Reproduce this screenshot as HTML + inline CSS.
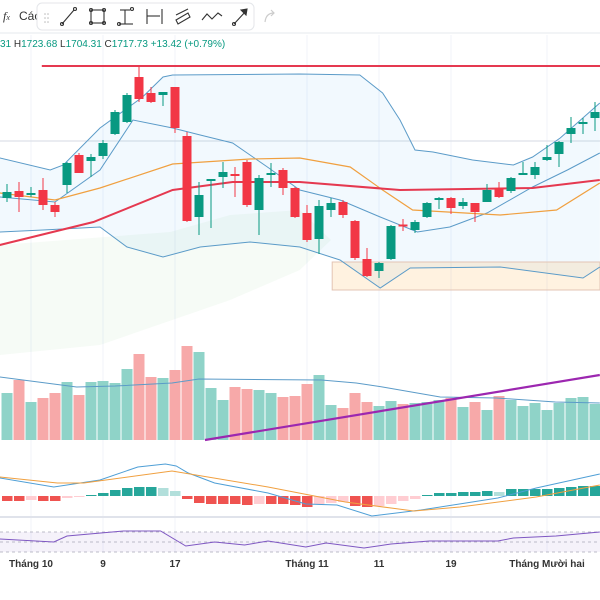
<!DOCTYPE html>
<html><head><meta charset="utf-8">
<style>
body{margin:0;width:600px;height:600px;overflow:hidden;background:#fff;font-family:"Liberation Sans",sans-serif;}
#wrap{position:relative;width:600px;height:600px;}
svg{position:absolute;left:0;top:0;}
</style></head>
<body>
<div id="wrap">
<svg id="chart" width="600" height="600"></svg>
</div>
<script>
// ---- DATA ----
const opens  = [1602,1609,1606.5,1610,1595,1615,1645,1639,1644,1666,1678,1723,1707,1705,1713,1664,1583,1620.5,1623,1626,1638,1590,1626.5,1630,1612,1587,1561,1590,1598,1579,1541,1529,1541,1575.5,1570,1583,1600,1602,1594,1597,1598,1612,1609,1626.5,1625,1640,1646,1666,1676,1682];
const highs  = [1616,1618,1613,1622,1598,1638,1647,1646,1660,1690,1707,1734,1713,1708,1713,1668,1618,1621,1638,1633,1640,1625,1637,1632,1613,1595,1600,1602,1600,1580,1552,1538,1575,1581,1580,1598,1603,1603,1602,1597,1616,1618,1623,1638,1638,1655,1659,1683,1682,1698];
const lows   = [1598,1588,1603,1590,1583,1607,1627,1623,1641,1665,1677,1698,1697,1694,1667,1578,1565,1572,1612,1603,1593,1565,1613,1605,1582,1558,1546,1583,1582,1540,1523,1522,1540,1569,1567,1582,1591,1586,1591,1578,1598,1602,1607,1625,1621,1639,1633,1657,1666,1669];
const closes = [1608,1603,1607,1595,1588,1637,1627,1643,1657,1688,1705,1701,1698,1708,1672,1579,1605,1621,1628,1624,1595,1622,1627,1612,1583,1560,1594,1597,1585,1542,1524,1537,1574,1575,1578,1597,1602,1592,1598,1588,1610,1603,1622,1627,1633,1643,1658,1672,1678,1688];
const volumes = [470,600,380,420,470,580,450,580,590,570,710,860,630,620,700,940,880,520,400,530,510,500,470,430,440,560,650,350,320,470,380,340,390,360,370,380,400,420,330,380,300,440,400,340,370,300,370,420,430,360];
const macdHist = [-5,-5,-4,-5,-5,-2,-1,1,3,6,8,9,9,8,5,-3,-7,-8,-8,-8,-9,-8,-8,-8,-9,-11,-8,-7,-6,-10,-11,-10,-8,-5,-3,1,3,3,4,4,5,4,7,7,7,7,8,9,10,10];
// line key points: [bar index, value]
const bbUpper = [[-0.6,1642],[3.6,1630],[4.7,1635],[7.75,1672],[11.3,1703],[13,1723],[13.8,1725],[24.4,1726],[29.4,1725],[31.3,1707],[32.75,1680],[34,1650],[35.5,1648],[38.8,1640],[42.2,1635],[43.8,1643],[46.1,1662],[49.4,1697]];
const bbMid = [[-0.6,1603],[4,1598],[7.75,1630],[10.5,1680],[13.8,1672],[16.1,1665],[18.8,1657],[21.7,1633],[24.4,1610],[27.75,1600],[31.1,1583],[34.2,1568],[36.9,1573],[40,1587],[43.8,1613],[46.7,1630],[49.4,1647]];
const bbLower = [[-0.6,1568],[3,1570],[7.75,1573],[10,1553],[13,1543],[16.1,1553],[20.25,1558],[24.4,1553],[27.75,1540],[31.1,1512],[33.6,1532],[41.1,1533],[48,1522],[49.4,1533]];
const maOrange = [[-0.6,1607],[4,1600],[7.75,1612],[13.8,1636],[20.25,1641],[24.4,1642],[28.6,1633],[31.3,1610],[33.8,1590],[41.1,1585],[45.8,1590],[49.4,1617]];
const maRed = [[-0.6,1555],[7.2,1578],[13.8,1610],[18.8,1618],[24.4,1618],[32.75,1610],[43.8,1612],[49.4,1620]];
const cloudTop = [[-0.6,1555],[13.6,1568],[18.6,1585],[24.4,1590],[27,1560]];
const cloudBottom = [[24.4,1530],[18.6,1500],[7.75,1455],[-0.6,1445]];
const volMA = [[-0.6,630],[5.8,530],[9,540],[13.75,570],[16,610],[26.2,600],[29.1,570],[31.3,530],[36.1,430],[40.8,420],[45.7,380],[49.4,370]];
const volTrend = [[16.5,0],[49.4,650]];
const macdLine = [[-0.6,18],[3.9,9],[7.75,16],[10.9,29],[13.2,32],[14.1,30],[15.1,23],[17.3,13],[21.75,3],[24.9,-8],[27.5,-9],[30.4,-20],[34.5,-14],[40.9,-2],[44.1,8],[49.4,22]];
const signalLine = [[-0.6,19],[4.2,13],[6.4,13],[13.75,25],[21.75,9],[28.2,-6],[33.9,-15],[37.75,-11],[44.1,-1],[49.4,11]];
const rsiLine = [[-0.6,56],[3.9,50],[5,62],[9.7,72],[12.8,72],[14.9,42],[17.3,50],[19.8,44],[21.75,52],[24.9,40],[26.6,48],[29.75,38],[32,46],[35.2,52],[40.9,52],[42.2,58],[45.75,62],[49.4,70]];
const resistance = [2.9, 1734];
const zoneBox = [27.1, 1538, 1510];
const tickIdx = [2,8,14,25,31,37,45];
const tickLabels = ["Tháng 10","9","17","Tháng 11","11","19","Tháng Mười hai"];

// ---- AXES ----
const X = i => 7 + 12*i;
const Y = p => 1800 - p;
const VY = v => 440 - v/10;
const MY = m => 496 - m;
const RY = r => 542 - (r-50)*0.5;

const NS="http://www.w3.org/2000/svg";
const svg=document.getElementById('chart');
function mk(tag,attrs,parent){const e=document.createElementNS(NS,tag);for(const k in attrs)e.setAttribute(k,attrs[k]);(parent||svg).appendChild(e);return e;}
function pathOf(pts,yf){return pts.map((p,i)=>(i?'L':'M')+X(p[0]).toFixed(1)+' '+yf(p[1]).toFixed(1)).join(' ');}

// grid
let g=mk('g',{});


tickIdx.forEach(t=>{mk('line',{x1:X(t),x2:X(t),y1:35,y2:552,stroke:'#f0f3fa','stroke-width':1},g);});
mk('line',{x1:0,x2:600,y1:141,y2:141,stroke:'#d6dae3','stroke-width':1},g);

// cloud
let cl=mk('path',{d:pathOf(cloudTop,Y)+' '+pathOf(cloudBottom,Y).replace('M','L')+' Z',fill:'rgba(76,175,80,0.05)'});


// bb fill
let bf=mk('path',{d:pathOf(bbUpper,Y)+' '+pathOf(bbLower.slice().reverse(),Y).replace('M','L')+' Z',fill:'rgba(33,150,243,0.06)'});



// zone box
let zb=mk('rect',{x:X(zoneBox[0]),y:Y(zoneBox[1]),width:600-X(zoneBox[0]),height:Y(zoneBox[2])-Y(zoneBox[1]),fill:'rgba(255,152,0,0.12)',stroke:'#e3c4b4','stroke-width':1});



// lines
[[bbUpper,'#5b9bc8',1,'bollinger-upper'],[bbLower,'#5b9bc8',1,'bollinger-lower'],[bbMid,'#5b9bc8',1,'bollinger-middle'],[maOrange,'#f0a040',1.2,'ma-orange'],[maRed,'#e53950',2,'ma-red']].forEach(l=>{
 let p=mk('path',{d:pathOf(l[0],Y),fill:'none',stroke:l[1],'stroke-width':l[2]});
 
 
});
// resistance
let rl=mk('line',{x1:X(resistance[0]),x2:600,y1:Y(resistance[1]),y2:Y(resistance[1]),stroke:'#e53950','stroke-width':2});



// candles
opens.forEach((o,i)=>{
 const c=closes[i],up=c>=o,col=up?'#089981':'#f23645';
 const cg=mk('g',{});
 
 
 mk('line',{x1:X(i),x2:X(i),y1:Y(highs[i]),y2:Y(lows[i]),stroke:col,'stroke-width':1},cg);
 const t=Y(Math.max(o,c)),b=Y(Math.min(o,c));
 mk('rect',{x:X(i)-4.5,y:t,width:9,height:Math.max(2,b-t),fill:col},cg);
});

// volume
volumes.forEach((v,i)=>{
 const up=closes[i]>=opens[i];
 const r=mk('rect',{x:X(i)-5.5,y:VY(v),width:11,height:440-VY(v),fill:up?'#8fd3c8':'#f7a9a9'});
 
 
});
let vm=mk('path',{d:pathOf(volMA,VY),fill:'none',stroke:'#5b9bc8','stroke-width':1});


let vt=mk('path',{d:pathOf(volTrend,VY),fill:'none',stroke:'#9c27b0','stroke-width':2.2});



// separators
mk('line',{x1:0,x2:600,y1:517,y2:517,stroke:'#e0e3eb','stroke-width':2});

// macd hist
macdHist.forEach((m,i)=>{
 const prev=i?macdHist[i-1]:m;
 let col;
 if(m>=0) col=m>=prev?'#26a69a':'#b2dfdb'; else col=m<=prev?'#ef5350':'#ffcdd2';
 const y1=MY(Math.max(m,0)),y2=MY(Math.min(m,0));
 const r=mk('rect',{x:X(i)-5,y:y1,width:10.5,height:Math.max(1,y2-y1),fill:col});
 
 
});
let ml=mk('path',{d:pathOf(macdLine,MY),fill:'none',stroke:'#4f9fd6','stroke-width':1});


let sl=mk('path',{d:pathOf(signalLine,MY),fill:'none',stroke:'#f0a040','stroke-width':1});



// rsi
let rb=mk('rect',{x:0,y:RY(70),width:600,height:RY(30)-RY(70),fill:'rgba(126,87,194,0.08)'});


[70,50,30].forEach(v=>{mk('line',{x1:0,x2:600,y1:RY(v),y2:RY(v),stroke:'#a9a9b8','stroke-width':0.8,'stroke-dasharray':'3,3'});});
let rsl=mk('path',{d:pathOf(rsiLine,RY),fill:'none',stroke:'#7e57c2','stroke-width':1});



// x ticks
tickIdx.forEach((t,k)=>{
 const tx=mk('text',{x:X(t),y:567,'text-anchor':'middle','font-size':10,'font-weight':'bold',fill:'#333','font-family':'Liberation Sans, sans-serif'});
 tx.textContent=tickLabels[k];
 
 
});
</script>
<!-- header overlay -->
<svg width="600" height="60" style="position:absolute;left:0;top:0">
 <rect x="0" y="0" width="600" height="33" fill="#fff"/>
 <line x1="0" y1="33" x2="600" y2="33" stroke="#e6e8ee"/>
 <text x="3" y="20" font-size="12" fill="#333" font-family="Liberation Serif, serif" font-style="italic">f<tspan font-size="8">x</tspan></text>
 <text x="19" y="20" font-size="12" fill="#333">Các</text>
 <rect x="37" y="3" width="217" height="27" rx="5" fill="#fff" stroke="#e4e6ea"/>
 <g fill="#bbb"><circle cx="45" cy="14" r="0.8"/><circle cx="48" cy="14" r="0.8"/><circle cx="45" cy="18" r="0.8"/><circle cx="48" cy="18" r="0.8"/><circle cx="45" cy="22" r="0.8"/><circle cx="48" cy="22" r="0.8"/></g>
 <g stroke="#333" fill="none" stroke-width="1.1">
  <g><line x1="62" y1="24" x2="74" y2="10"/><circle cx="62" cy="24" r="1.5"/><circle cx="75" cy="9" r="1.5"/></g>
  <g><rect x="91" y="10" width="13" height="13"/><circle cx="91" cy="10" r="1.5"/><circle cx="104" cy="10" r="1.5"/><circle cx="91" cy="23" r="1.5"/><circle cx="104" cy="23" r="1.5"/></g>
  <g><line x1="120" y1="10" x2="130" y2="10"/><line x1="125" y1="10" x2="125" y2="24"/><line x1="119" y1="24" x2="133" y2="24"/><circle cx="132" cy="9" r="1.5"/><circle cx="119" cy="24" r="1.5"/></g>
  <g><line x1="147" y1="9" x2="147" y2="24"/><line x1="162" y1="9" x2="162" y2="24"/><line x1="147" y1="16" x2="160" y2="16"/></g>
  <g><path d="M176 20 L188 13 L190 17 L178 24 Z"/><path d="M176 15 L188 9"/></g>
  <g><path d="M202 20 L207 14 L212 19 L218 13 L222 16"/></g>
  <g><line x1="234" y1="24" x2="246" y2="11"/><circle cx="234" cy="24" r="1.5"/><path d="M241 10 L247 9 L246 15 Z" fill="#333"/></g>
 </g>
 <path d="M265 22 Q266 13 274 13 M271 10 L274 13 L271 16" stroke="#ccc" fill="none" stroke-width="1.2"/>
 <text x="0" y="47" font-size="10" fill="#333"><tspan fill="#089981">31</tspan> H<tspan fill="#089981">1723.68</tspan> L<tspan fill="#089981">1704.31</tspan> C<tspan fill="#089981">1717.73</tspan> <tspan fill="#089981">+13.42 (+0.79%)</tspan></text>
</svg>
</body></html>
